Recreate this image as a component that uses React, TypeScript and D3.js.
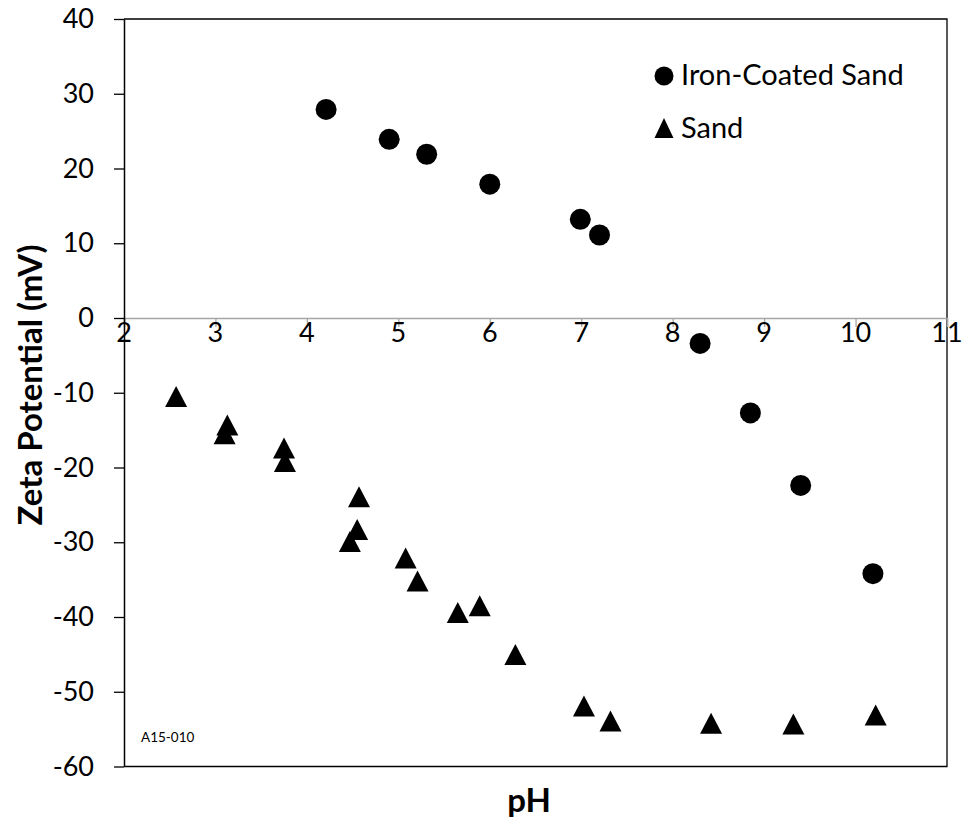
import * as d3 from 'd3'
import { useEffect, useRef } from 'react'

const width = 966
const height = 823
const plotLeft = 124
const plotRight = 947
const plotTop = 19
const plotBottom = 766.5

// Iron-coated sand (circles)
const ironPH = [4.21, 4.9, 5.31, 6.0, 6.99, 7.2, 8.3, 8.85, 9.4, 10.19]
const ironZeta = [27.9, 23.9, 21.9, 17.9, 13.2, 11.1, -3.4, -12.7, -22.4, -34.2]

// Sand (triangles)
const sandPH = [
  2.57, 3.13, 3.1, 3.75, 3.76, 4.57, 4.55, 4.47, 5.08, 5.21, 5.65, 5.89, 6.28,
  7.03, 7.32, 8.42, 9.32, 10.22,
]
const sandZeta = [
  -10.5, -14.3, -15.5, -17.4, -19.2, -23.9, -28.3, -29.9, -32.1, -35.2, -39.4,
  -38.5, -45.0, -51.9, -53.9, -54.2, -54.3, -53.1,
]

const xTicks = [2, 3, 4, 5, 6, 7, 8, 9, 10, 11]
const yTicks = [40, 30, 20, 10, 0, -10, -20, -30, -40, -50, -60]

const font = 'Lato, "Open Sans", sans-serif'

export default function App() {
  const ref = useRef<SVGSVGElement>(null)

  useEffect(() => {
    const svg = d3.select(ref.current)
    svg.selectAll('*').remove()

    const x = d3.scaleLinear([2, 11], [plotLeft, plotRight])
    const y = d3.scaleLinear([-60, 40], [plotBottom, plotTop])

    // plot frame (top, right, bottom)
    svg
      .append('path')
      .attr('fill', 'none')
      .attr('stroke', '#000')
      .attr('stroke-width', 1.3)
      .attr('d', `M${x(2)},${y(40)}H${x(11)}V${y(-60)}H${x(2)}`)

    // x-axis at zero: grey line with ticks going down
    const xAxis = svg
      .append('g')
      .attr('transform', `translate(0,${y(0)})`)
      .call(d3.axisBottom(x).tickValues(xTicks).tickSize(9).tickFormat(() => ''))
    xAxis.select('.domain').attr('stroke', '#a6a6a6').attr('stroke-width', 1.5)
    xAxis.selectAll('.tick line').attr('stroke', '#a6a6a6').attr('stroke-width', 1.3)

    svg
      .append('g')
      .selectAll('text')
      .data(xTicks)
      .join('text')
      .attr('x', d => x(d))
      .attr('y', y(0) + 24)
      .attr('text-anchor', 'middle')
      .attr('font-family', font)
      .attr('font-size', 27)
      .attr('fill', '#000')
      .text(d => String(d))

    // y-axis
    const yAxis = svg
      .append('g')
      .attr('transform', `translate(${x(2)},0)`)
      .call(
        d3
          .axisLeft(y)
          .tickValues(yTicks)
          .tickSize(10)
          .tickSizeOuter(0)
          .tickPadding(20)
          .tickFormat(d => String(d))
      )
    yAxis.select('.domain').attr('stroke', '#000').attr('stroke-width', 1.5)
    yAxis.selectAll('.tick line').attr('stroke', '#000').attr('stroke-width', 1.3)
    yAxis
      .selectAll('.tick text')
      .attr('font-family', font)
      .attr('font-size', 27)
      .attr('fill', '#000')

    // markers
    const ironData = ironPH.map((p, i) => ({ p, z: ironZeta[i] }))
    const sandData = sandPH.map((p, i) => ({ p, z: sandZeta[i] }))

    svg
      .append('g')
      .selectAll('circle')
      .data(ironData)
      .join('circle')
      .attr('cx', d => x(d.p))
      .attr('cy', d => y(d.z))
      .attr('r', 10.5)
      .attr('fill', '#000')

    const tri = (w: number, h: number) =>
      `M0,${-h / 2}L${w / 2},${h / 2}L${-w / 2},${h / 2}Z`

    svg
      .append('g')
      .selectAll('path')
      .data(sandData)
      .join('path')
      .attr('transform', d => `translate(${x(d.p)},${y(d.z)})`)
      .attr('d', tri(22, 21))
      .attr('fill', '#000')

    // legend
    const legend = svg.append('g').attr('font-family', font).attr('font-size', 29)
    legend.append('circle').attr('cx', 664).attr('cy', 76).attr('r', 9.5).attr('fill', '#000')
    legend.append('text').attr('x', 681).attr('y', 85).text('Iron-Coated Sand')
    legend
      .append('path')
      .attr('transform', 'translate(664,128)')
      .attr('d', tri(19, 20))
      .attr('fill', '#000')
    legend.append('text').attr('x', 681).attr('y', 138).text('Sand')

    // small label
    svg
      .append('text')
      .attr('x', 141)
      .attr('y', 742)
      .attr('font-family', font)
      .attr('font-size', 13.5)
      .text('A15-010')

    // axis titles
    svg
      .append('text')
      .attr('x', 529)
      .attr('y', 812)
      .attr('text-anchor', 'middle')
      .attr('font-family', font)
      .attr('font-weight', 'bold')
      .attr('font-size', 33)
      .text('pH')

    svg
      .append('text')
      .attr('transform', `translate(42,385) rotate(-90)`)
      .attr('text-anchor', 'middle')
      .attr('font-family', font)
      .attr('font-weight', 'bold')
      .attr('font-size', 33)
      .text('Zeta Potential (mV)')
  }, [])

  return (
    <svg
      ref={ref}
      width={width}
      height={height}
      viewBox={`0 0 ${width} ${height}`}
      style={{ position: 'absolute', left: 0, top: 0, background: '#fff' }}
    ></svg>
  )
}
